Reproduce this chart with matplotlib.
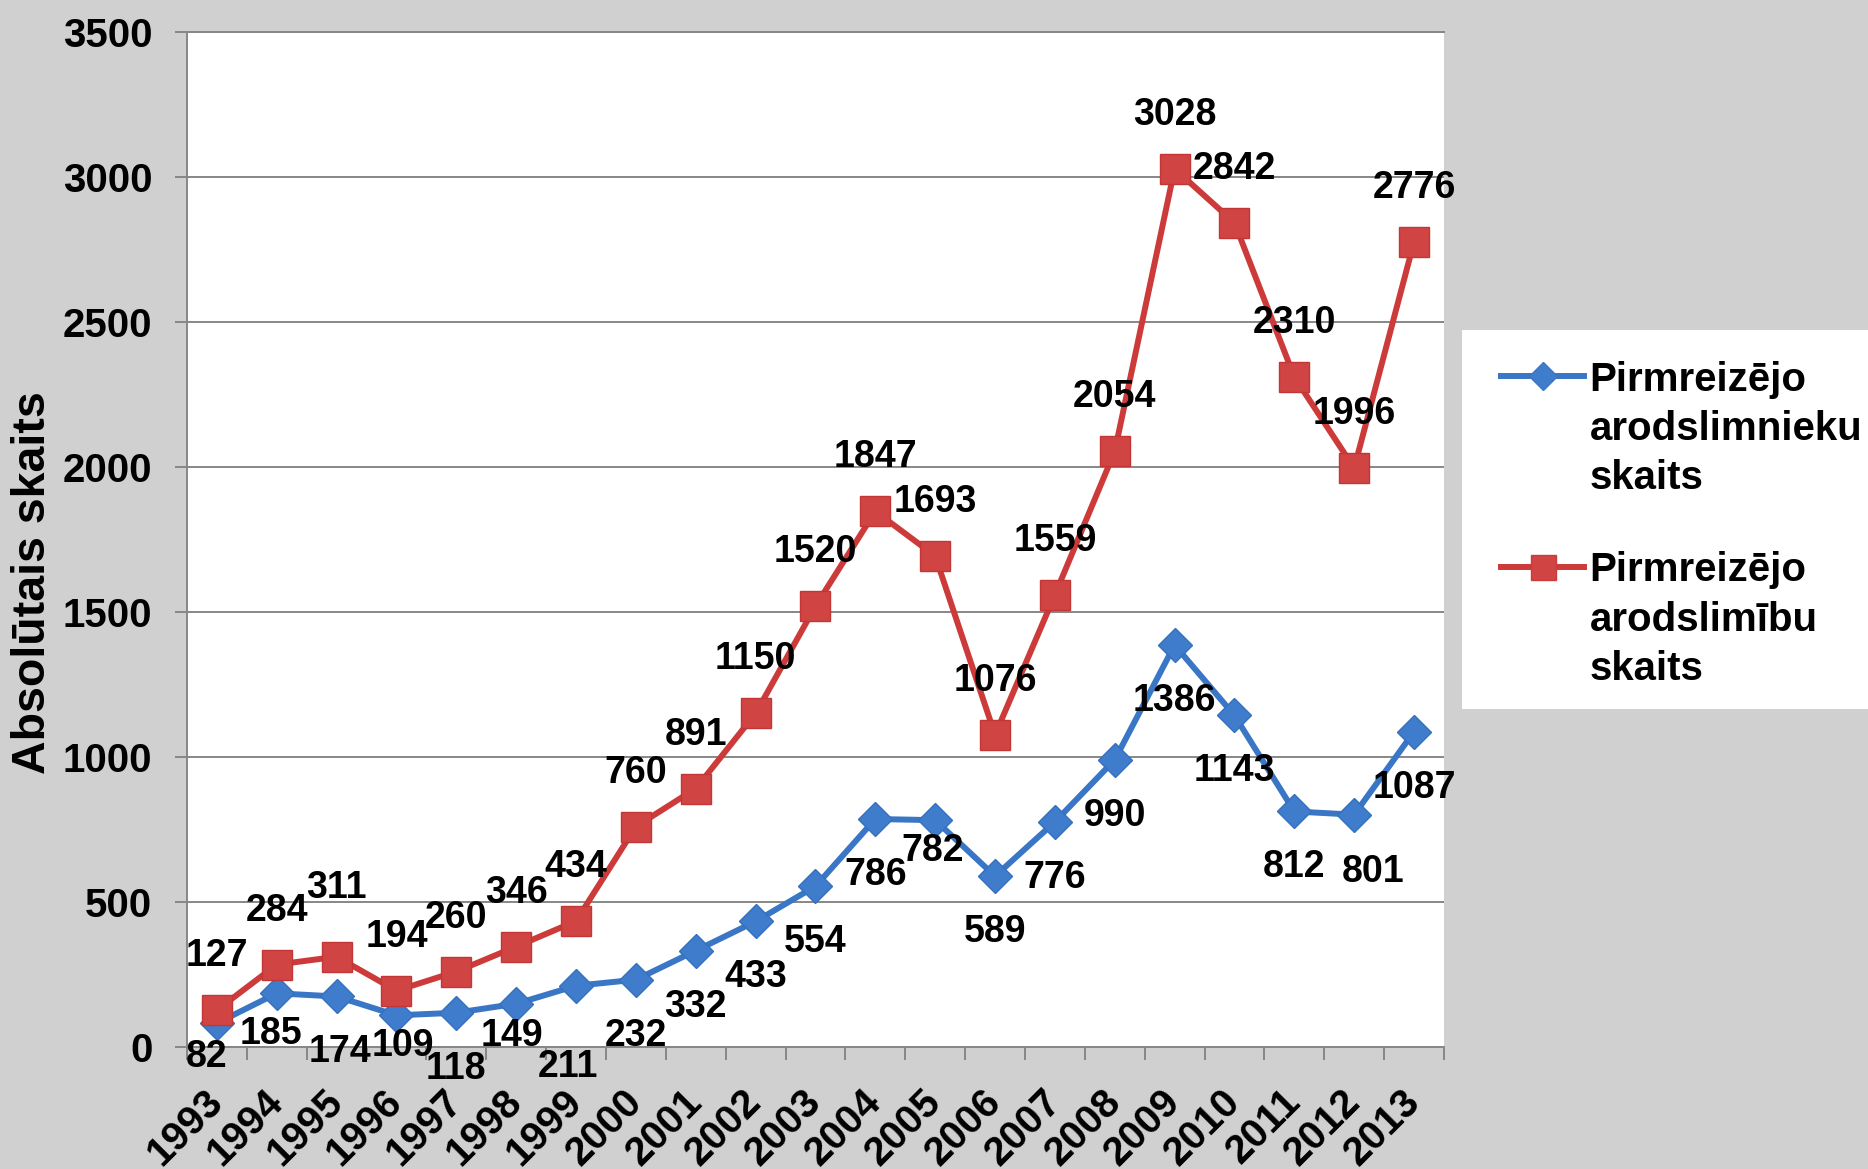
import matplotlib.pyplot as plt
from matplotlib.lines import Line2D
from matplotlib.patches import Rectangle
from matplotlib.ticker import FixedLocator
from matplotlib.transforms import ScaledTranslation

gadi = ["1993", "1994", "1995", "1996", "1997", "1998", "1999", "2000", "2001",
        "2002", "2003", "2004", "2005", "2006", "2007", "2008", "2009", "2010",
        "2011", "2012", "2013"]
arodslimnieki = [82, 185, 174, 109, 118, 149, 211, 232, 332, 433, 554, 786,
                 782, 589, 776, 990, 1386, 1143, 812, 801, 1087]
arodslimibas = [127, 284, 311, 194, 260, 346, 434, 760, 891, 1150, 1520, 1847,
                1693, 1076, 1559, 2054, 3028, 2842, 2310, 1996, 2776]

nosaukums_1 = "Pirmreizējo\narodslimnieku\nskaits"
nosaukums_2 = "Pirmreizējo\narodslimību\nskaits"
y_nosaukums = "Absolūtais skaits"

zils = "#3a76c6"
sarkans = "#cc3b3a"
fons = "#d0d0d0"
pelēks = "#878787"
fonts = "Liberation Sans"

# etiķešu nobīdes pikseļos (dx, dy), kur atšķiras no standarta
zilo_nobide = {0: (-10, -34), 1: (-6, -41), 2: (3, -56), 3: (6, -31),
               5: (-4, -32), 6: (-8, -81), 12: (-3, -31), 19: (19, -57)}
sarkano_nobide = {2: (0, 69)}

plt.rcParams['font.family'] = [fonts, 'DejaVu Sans']
plt.rcParams['font.weight'] = 'bold'

fig = plt.figure(figsize=(18.68, 11.69), dpi=100, facecolor=fons)
ax = fig.add_axes([0.1001, 0.1044, 0.6729, 0.8683])
ax.set_facecolor("white")

x = list(range(len(gadi)))
ax.plot(x, arodslimnieki, color=zils, lw=4.3, marker="D", ms=17.5,
        mfc="#3f7dcc", mec="#3570bd", mew=1, zorder=3, clip_on=False)
ax.plot(x, arodslimibas, color=sarkans, lw=4.3, marker="s", ms=22,
        mfc="#d04444", mec="#c23636", mew=1, zorder=4, clip_on=False)

for i, v in enumerate(arodslimnieki):
    dx, dy = zilo_nobide.get(i, (0, -56))
    ax.annotate(str(v), (i, v), xytext=(dx, dy), textcoords="offset pixels",
                ha="center", va="center", fontsize=27, fontweight="bold",
                zorder=5, annotation_clip=False)
for i, v in enumerate(arodslimibas):
    dx, dy = sarkano_nobide.get(i, (0, 54))
    ax.annotate(str(v), (i, v), xytext=(dx, dy), textcoords="offset pixels",
                ha="center", va="center", fontsize=27, fontweight="bold",
                zorder=5, annotation_clip=False)

ax.set_xlim(-0.5, len(gadi) - 0.5)
ax.set_ylim(0, 3500)
ax.set_yticks(range(0, 3501, 500))
ax.yaxis.grid(True, color=pelēks, lw=1.4)
ax.set_axisbelow(True)

ax.set_xticks(x)
ax.set_xticklabels(gadi, rotation=45, ha="right", va="center",
                   rotation_mode="anchor", fontsize=29, fontweight="bold")
nobide = ScaledTranslation(4 / 100, 0, fig.dpi_scale_trans)
for lbl in ax.get_xticklabels():
    lbl.set_transform(lbl.get_transform() + nobide)
ax.xaxis.set_minor_locator(FixedLocator([i - 0.5 for i in range(len(gadi) + 1)]))
ax.tick_params(axis="x", which="major", length=0, pad=35)
ax.tick_params(axis="x", which="minor", length=9, width=1.4, color=pelēks, direction="out")
ax.tick_params(axis="y", length=9, width=1.4, color=pelēks, pad=16, labelsize=29)
for lbl in ax.get_yticklabels():
    lbl.set_fontweight("bold")

for s in ["left", "bottom", "top"]:
    ax.spines[s].set_color(pelēks)
    ax.spines[s].set_linewidth(1.4)
ax.spines["right"].set_visible(False)

fig.text(0.0177, 0.502, y_nosaukums, rotation=90, ha="center", va="center",
         fontsize=33.5, fontweight="bold")

# leģenda
fig.patches.append(Rectangle((0.7827, 0.3935), 0.2173, 0.3242, transform=fig.transFigure,
                             facecolor="white", edgecolor="none", zorder=1))
ierakstai = [(0.678, zils, "D", 14, "#3f7dcc", nosaukums_1),
             (0.515, sarkans, "s", 18, "#d04444", nosaukums_2)]
for y0, krasa, mk, izm, mfc, teksts in ierakstai:
    fig.add_artist(Line2D([0.8035, 0.848], [y0, y0], transform=fig.transFigure,
                          color=krasa, lw=4.3, zorder=2))
    fig.add_artist(Line2D([0.8258], [y0], transform=fig.transFigure, color=krasa,
                          marker=mk, ms=izm, mfc=mfc, mec=krasa, zorder=3))
    fig.text(0.851, y0 + 0.0135, teksts, ha="left", va="top", fontsize=29,
             fontweight="bold", linespacing=1.38, zorder=4)

fig.savefig("out.png", dpi=100, facecolor=fons)
